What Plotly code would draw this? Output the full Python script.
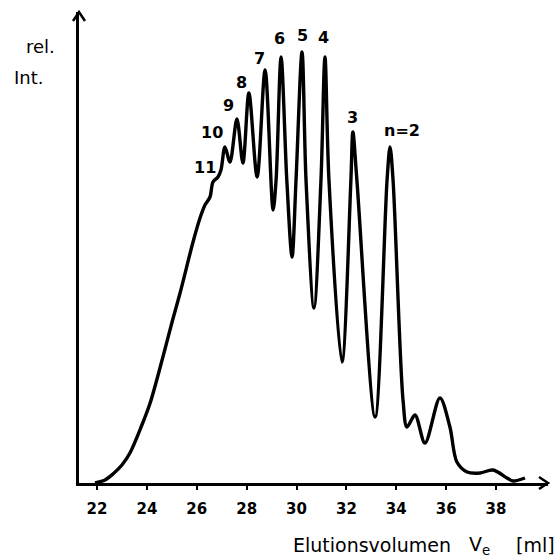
import plotly.graph_objects as go

# Elution volume (ml) and relative intensity (arbitrary units)
volume = [21.92, 22.32, 22.64, 23.00, 23.32, 23.80, 24.13, 24.61, 25.01, 25.33,
          25.85, 26.13, 26.33, 26.53, 26.65, 26.85, 26.97, 27.13, 27.33, 27.61,
          27.85, 28.09, 28.42, 28.74, 29.06, 29.18, 29.38, 29.61, 29.82, 29.98,
          30.22, 30.38, 30.70, 30.98, 31.14, 31.30, 31.82, 32.18, 32.26, 32.42,
          33.15, 33.63, 33.75, 33.87, 34.27, 34.43, 34.75, 35.15, 35.75, 36.15,
          36.43, 36.84, 37.36, 37.88, 38.44, 38.68, 39.16]
intensity = [0, 3, 9, 18, 30, 58, 80, 123, 161, 190,
             241, 265, 278, 286, 301, 306, 313, 336, 321, 364,
             320, 390, 306, 413, 273, 303, 426, 303, 226, 303,
             431, 303, 175, 303, 426, 303, 121, 303, 351, 303,
             66, 303, 336, 303, 83, 56, 68, 40, 85, 56,
             21, 11, 10, 13, 5, 2, 5]

# Peak labels (degree of polymerisation n)
peak_labels = ["11", "10", "9", "8", "7", "6", "5", "4", "3", "n=2"]
label_x = [26.33, 26.61, 27.29, 27.81, 28.50, 29.30, 30.22, 31.10, 32.26, 34.23]
label_y = [316, 351, 378, 401, 425, 445, 448, 446, 366, 353]

x_ticks = [22, 24, 26, 28, 30, 32, 34, 36, 38]

W, H = 469, 471  # plot area in px

fig = go.Figure()
fig.add_trace(go.Scatter(
    x=volume, y=intensity, mode="lines",
    line=dict(color="black", width=3.4, shape="spline", smoothing=0.9),
    hoverinfo="skip", showlegend=False,
))

for t, lx, ly in zip(peak_labels, label_x, label_y):
    fig.add_annotation(x=lx, y=ly, text=t, showarrow=False,
                       xanchor="center", yanchor="middle",
                       font=dict(family="DejaVu Sans", size=16, color="black", weight="bold"))

def px2paper(px, py):
    return (px - 79) / W, (483 - py) / H

lab_font = dict(family="DejaVu Sans", size=18, color="black", weight=500)
for txt, px, py, anc in [("rel.", 40, 47, "center"), ("Int.", 29, 78, "center")]:
    xp, yp = px2paper(px, py)
    fig.add_annotation(x=xp, y=yp, xref="paper", yref="paper", text=txt,
                       showarrow=False, xanchor=anc, yanchor="middle", font=lab_font)

title_font = dict(family="DejaVu Sans", size=19, color="black")
for txt, px, anc in [("Elutionsvolumen", 453, "right"),
                     ("V<sub>e</sub>", 467, "left"),
                     ("[ml]", 557, "right")]:
    xp, yp = px2paper(px, 545)
    fig.add_annotation(x=xp, y=yp, xref="paper", yref="paper", text=txt,
                       showarrow=False, xanchor=anc, yanchor="middle", font=title_font)

# arrow heads on axes
ax_len, ax_half = 9, 6
fig.add_shape(type="path", xref="paper", yref="paper",
              path=f"M {1 - ax_len / W} {ax_half / H} L 1 0 L {1 - ax_len / W} {-ax_half / H}",
              line=dict(color="black", width=2.5))
fig.add_shape(type="path", xref="paper", yref="paper",
              path=f"M {-ax_half / W} {1 - ax_len / H} L 0 1 L {ax_half / W} {1 - ax_len / H}",
              line=dict(color="black", width=2.5))

fig.update_layout(
    template="none",
    width=559, height=557,
    margin=dict(l=79, r=11, t=12, b=74, autoexpand=False),
    paper_bgcolor="white", plot_bgcolor="white",
    xaxis=dict(range=[21.278, 40.083], tickvals=x_ticks,
               ticktext=[str(v) for v in x_ticks], automargin=False,
               showline=True, linecolor="black", linewidth=2.5,
               ticks="outside", ticklen=4, tickwidth=2, tickcolor="black",
               ticklabelstandoff=6,
               tickfont=dict(family="DejaVu Sans", size=15, color="black", weight="bold"),
               showgrid=False, zeroline=False, fixedrange=True),
    yaxis=dict(range=[0, 471], showline=True, linecolor="black", linewidth=2.5,
               automargin=False,
               showticklabels=False, ticks="", showgrid=False, zeroline=False,
               fixedrange=True),
)

fig.write_html("out.html", config={"displayModeBar": False},
               post_script="document.body.style.margin='0';document.body.style.overflow='hidden';")
